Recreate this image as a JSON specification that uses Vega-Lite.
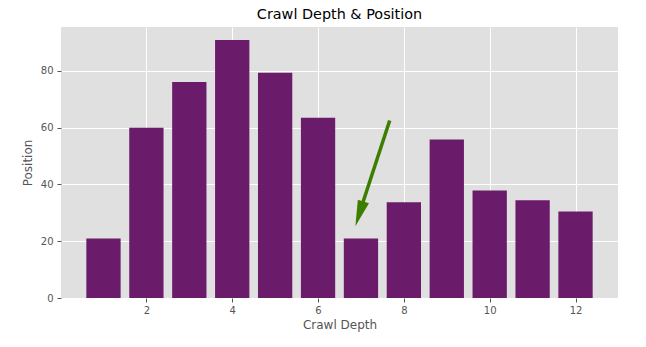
{
  "$schema": "https://vega.github.io/schema/vega-lite/v6.json",
  "width": 557,
  "height": 271,
  "autosize": {"type": "none"},
  "padding": {"left": 61, "top": 27, "right": 28, "bottom": 49},
  "background": "white",
  "title": {"text": "Crawl Depth & Position", "font": "DejaVu Sans", "fontSize": 14.4, "fontWeight": "normal", "color": "#000000", "offset": 5, "anchor": "middle"},
  "config": {
    "view": {"fill": "#E0E0E0", "stroke": null},
    "axis": {
      "domain": false,
      "grid": true,
      "gridColor": "#ffffff",
      "gridWidth": 1,
      "tickColor": "#555555",
      "tickSize": 4,
      "labelFont": "DejaVu Sans",
      "labelFontSize": 10,
      "labelColor": "#555555",
      "titleFont": "DejaVu Sans",
      "titleFontSize": 12,
      "titleFontWeight": "normal",
      "titleColor": "#555555"
    }
  },
  "datasets": {
    "bars": [
      {"depth": 1, "position": 21.0},
      {"depth": 2, "position": 60.0},
      {"depth": 3, "position": 76.1},
      {"depth": 4, "position": 90.9},
      {"depth": 5, "position": 79.3},
      {"depth": 6, "position": 63.5},
      {"depth": 7, "position": 21.0},
      {"depth": 8, "position": 33.7},
      {"depth": 9, "position": 55.8},
      {"depth": 10, "position": 37.9},
      {"depth": 11, "position": 34.4},
      {"depth": 12, "position": 30.5}
    ],
    "arrowLine": [
      {"x": 7.67, "y": 62.5, "x2": 7.02, "y2": 32.5}
    ],
    "arrowHead": [
      {"x": 6.87, "y": 25.3}
    ]
  },
  "layer": [
    {
      "data": {"name": "bars"},
      "mark": {"type": "bar", "color": "#6A1B6A", "size": 34.3},
      "encoding": {
        "x": {"field": "depth", "type": "quantitative", "scale": {"domain": [0.01, 12.99], "nice": false, "zero": false, "padding": 0},
          "axis": {"values": [2, 4, 6, 8, 10, 12], "title": "Crawl Depth", "labelPadding": 3, "titlePadding": 4}},
        "y": {"field": "position", "type": "quantitative", "scale": {"domain": [0, 95.45], "nice": false},
          "axis": {"values": [0, 20, 40, 60, 80], "title": "Position", "labelPadding": 4, "titlePadding": 6}}
      }
    },
    {
      "data": {"name": "arrowLine"},
      "mark": {"type": "rule", "color": "#3C7F00", "strokeWidth": 3.5},
      "encoding": {
        "x": {"field": "x", "type": "quantitative"},
        "y": {"field": "y", "type": "quantitative"},
        "x2": {"field": "x2"},
        "y2": {"field": "y2"}
      }
    },
    {
      "data": {"name": "arrowHead"},
      "mark": {"type": "point", "shape": "M0,0 L-0.45,2 L0.45,2 Z", "size": 676, "angle": 198, "filled": true, "color": "#3C7F00", "opacity": 1, "strokeWidth": 0},
      "encoding": {
        "x": {"field": "x", "type": "quantitative"},
        "y": {"field": "y", "type": "quantitative"}
      }
    }
  ]
}
